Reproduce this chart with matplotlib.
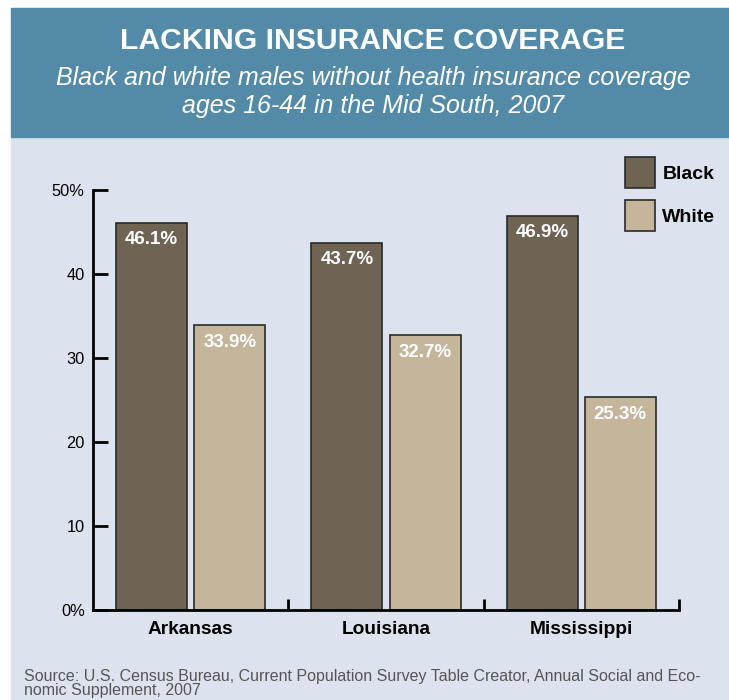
import numpy as np
import matplotlib
matplotlib.use("Agg")
from matplotlib import pyplot as plt
from matplotlib.patches import Rectangle, Patch

plt.rcParams['font.family'] = ['Liberation Sans', 'DejaVu Sans']

states = ['Arkansas', 'Louisiana', 'Mississippi']
black = [46.1, 43.7, 46.9]
white = [33.9, 32.7, 25.3]
yticks = [0, 10, 20, 30, 40, 50]
ytick_labels = ['0%', '10', '20', '30', '40', '50%']

c_black = '#6f6354'
c_white = '#c4b59b'
c_edge = '#2a2a2a'
c_head = '#528aa7'
c_bg = '#dde3ee'

W, H = 729, 700
fig = plt.figure(figsize=(W / 100, H / 100), dpi=100)
fig.patch.set_facecolor('white')

# background panels
fig.patches.append(Rectangle((11 / W, 0), 1, 1 - 137 / H, transform=fig.transFigure,
                             color=c_bg, zorder=-5))
fig.patches.append(Rectangle((11 / W, 1 - 137 / H), 1, (137 - 8) / H, transform=fig.transFigure,
                             color=c_head, zorder=-5))

fig.text(373 / W, 1 - 41 / H, 'LACKING INSURANCE COVERAGE', color='white',
         fontsize=21.7, fontweight='bold', ha='center', va='center')
fig.text(373 / W, 1 - 78 / H, 'Black and white males without health insurance coverage',
         color='white', fontsize=18, style='italic', ha='center', va='center')
fig.text(373 / W, 1 - 106 / H, 'ages 16-44 in the Mid South, 2007',
         color='white', fontsize=18, style='italic', ha='center', va='center')

ax = fig.add_axes([93 / W, 1 - 610 / H, (679 - 93) / W, (610 - 190) / H])
ax.set_facecolor('none')
ax.set_zorder(2)

x = np.arange(len(states)) + 0.5
bw = 0.363
off = 0.2
b1 = ax.bar(x - off, black, bw, color=c_black, edgecolor=c_edge, linewidth=1.2, label='Black')
b2 = ax.bar(x + off, white, bw, color=c_white, edgecolor=c_edge, linewidth=1.2, label='White')

for bars, vals in ((b1, black), (b2, white)):
    for r, v in zip(bars, vals):
        ax.text(r.get_x() + r.get_width() / 2, v - 1.0, f'{v}%', color='white',
                fontsize=13.5, fontweight='bold', ha='center', va='top')

ax.set_xlim(0, 3)
ax.set_ylim(0, 50)
ax.set_yticks(yticks)
ax.set_yticklabels(ytick_labels, fontsize=11.8)
ax.tick_params(axis='y', direction='in', length=11, width=2, pad=6, color='black')
ax.set_xticks(x)
ax.set_xticklabels(states, fontsize=13.8, fontweight='bold')
ax.tick_params(axis='x', length=0, pad=8)

for s in ['top', 'right']:
    ax.spines[s].set_visible(False)
for s in ['left', 'bottom']:
    ax.spines[s].set_linewidth(2)

# group separator ticks on x axis
for b in [1, 2, 3]:
    ax.plot([b, b], [0, 1.3], color='black', lw=2, solid_capstyle='butt', clip_on=False)

handles = [Patch(facecolor=c_black, edgecolor=c_edge, linewidth=1.2),
           Patch(facecolor=c_white, edgecolor=c_edge, linewidth=1.2)]
leg = fig.legend(handles, ['Black', 'White'], loc='upper left',
                 bbox_to_anchor=(607 / W, 1 - 140 / H), frameon=False,
                 prop={'weight': 'bold', 'size': 14},
                 handlelength=1.55, handleheight=2.05, labelspacing=0.62, handletextpad=0.4)

fig.text(24 / W, 1 - 676 / H,
         'Source: U.S. Census Bureau, Current Population Survey Table Creator, Annual Social and Eco-',
         color='#555555', fontsize=11.55, ha='left', va='center')
fig.text(24 / W, 1 - 690 / H, 'nomic Supplement, 2007',
         color='#555555', fontsize=11.55, ha='left', va='center')

fig.savefig('out.png', dpi=100, facecolor=fig.get_facecolor())
